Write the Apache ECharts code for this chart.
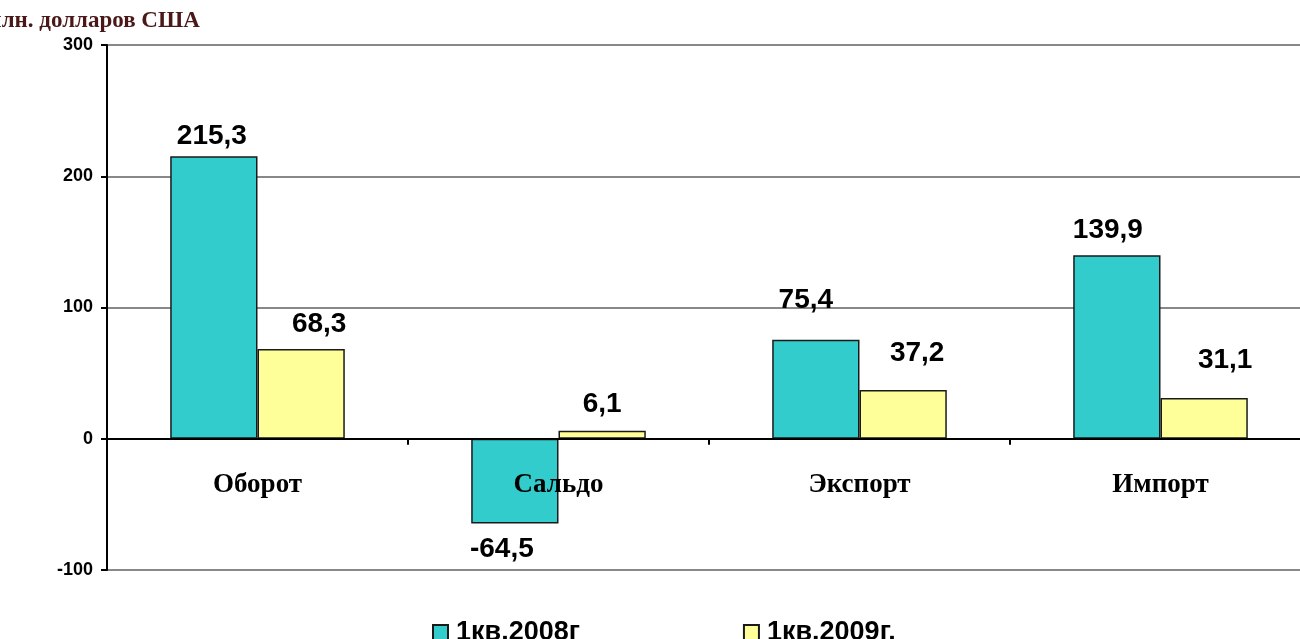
<!DOCTYPE html>
<html>
<head>
<meta charset="utf-8">
<script src="https://cdn.jsdelivr.net/npm/echarts@6/dist/echarts.min.js"></script>
<style>
  html, body { margin: 0; padding: 0; background: #fff; }
  #chart { width: 1300px; height: 639px; }
</style>
</head>
<body>
<div id="chart"></div>
<script>
// данные
const categories = ['Оборот', 'Сальдо', 'Экспорт', 'Импорт']
const q1_2008 = [215.3, -64.5, 75.4, 139.9]
const q1_2009 = [68.3, 6.1, 37.2, 31.1]
const seriesNames = ['1кв.2008г', '1кв.2009г.']
const unitLabel = 'млн. долларов США'

// смещения подписей (как в исходной диаграмме Excel)
const offs2008 = [[-2, 0], [-13, 6], [-10, -20], [-9, -5]]
const offs2009 = [[18, -5], [0, -6], [14, -17], [21, -18]]

const fmt = v => String(v).replace('.', ',')

const chart = echarts.init(document.getElementById('chart'))

const labelBase = {
  show: true,
  position: 'top',
  distance: 6,
  fontFamily: 'Liberation Sans',
  fontWeight: 'bold',
  fontSize: 28,
  color: '#000',
  formatter: p => fmt(p.value)
}

function makeData(values, offs) {
  return values.map((v, i) => ({
    value: v,
    label: { offset: offs[i], position: v < 0 ? 'bottom' : 'top' }
  }))
}

const option = {
  backgroundColor: '#fff',
  animation: false,
  graphic: [{
    type: 'text',
    x: -14,
    y: 10,
    style: {
      text: unitLabel,
      font: 'bold 23px "Liberation Serif"',
      fill: '#4a1818'
    }
  }],
  grid: {
    left: 107,
    width: 1204,
    top: 45,
    bottom: 69,
    outerBoundsMode: 'none'
  },
  legend: {
    left: 427,
    top: 614,
    itemWidth: 15,
    itemHeight: 15,
    itemGap: 163,
    icon: 'rect',
    textStyle: {
      fontFamily: 'Liberation Sans',
      fontWeight: 'bold',
      fontSize: 27,
      color: '#000',
      padding: [0, 0, 0, 3]
    },
    data: seriesNames
  },
  xAxis: {
    type: 'category',
    data: categories,
    axisLine: { onZero: true, lineStyle: { color: '#000', width: 2 } },
    axisTick: { show: true, length: 6, lineStyle: { color: '#000', width: 2 } },
    axisLabel: {
      margin: -98,
      fontFamily: 'Liberation Serif',
      fontWeight: 'bold',
      fontSize: 27,
      color: '#000'
    },
    z: 10
  },
  yAxis: {
    type: 'value',
    min: -100,
    max: 300,
    interval: 100,
    axisLine: { show: true, lineStyle: { color: '#000', width: 2 } },
    axisTick: { show: true, length: 6, lineStyle: { color: '#000', width: 2 } },
    axisLabel: {
      margin: 14,
      fontFamily: 'Liberation Sans',
      fontWeight: 'bold',
      fontSize: 18,
      color: '#000'
    },
    splitLine: { lineStyle: { color: '#888', width: 2 } }
  },
  series: [
    {
      name: seriesNames[0],
      type: 'bar',
      data: makeData(q1_2008, offs2008),
      barGap: '0%',
      barCategoryGap: '42%',
      itemStyle: { color: '#33CCCC', borderColor: '#1a1a1a', borderWidth: 1.5 },
      label: labelBase,
      z: 3
    },
    {
      name: seriesNames[1],
      type: 'bar',
      data: makeData(q1_2009, offs2009),
      itemStyle: { color: '#FFFF99', borderColor: '#1a1a1a', borderWidth: 1.5 },
      label: labelBase,
      z: 3
    }
  ]
}

chart.setOption(option)
</script>
</body>
</html>
